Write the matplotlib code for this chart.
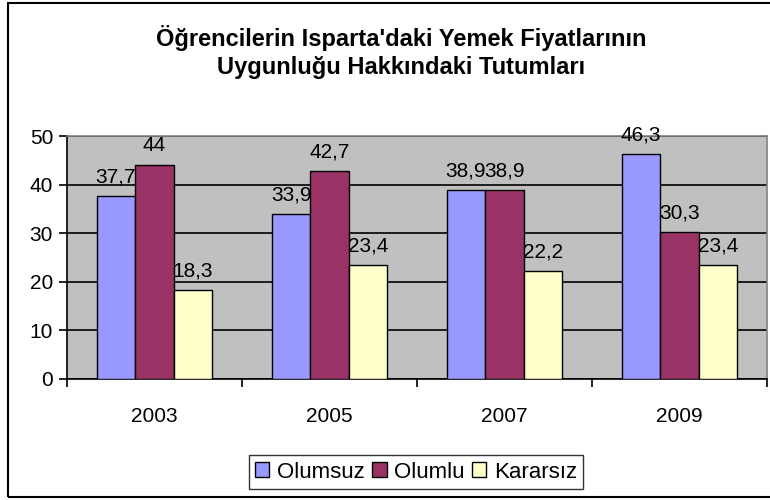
import matplotlib
matplotlib.use("Agg")
import matplotlib.pyplot as plt
from matplotlib.patches import Rectangle
import numpy as np

plt.rcParams['font.family'] = ['Liberation Sans', 'DejaVu Sans']

years = ['2003', '2005', '2007', '2009']
series_names = ['Olumsuz', 'Olumlu', 'Kararsız']
olumsuz = [37.7, 33.9, 38.9, 46.3]
olumlu = [44.0, 42.7, 38.9, 30.3]
kararsiz = [18.3, 23.4, 22.2, 23.4]
value_labels = [['37,7', '33,9', '38,9', '46,3'],
                ['44', '42,7', '38,9', '30,3'],
                ['18,3', '23,4', '22,2', '23,4']]
colors = ['#9999FF', '#993366', '#FFFFCC']
title = "Öğrencilerin Isparta'daki Yemek Fiyatlarının\nUygunluğu Hakkındaki Tutumları"

W, H = 770, 500
fig = plt.figure(figsize=(W / 100, H / 100), dpi=100)
fig.patch.set_facecolor('white')

# outer border
fig.patches.append(Rectangle((8 / W, 3 / H), 1.2, 494 / H, transform=fig.transFigure,
                             fill=False, edgecolor='black', linewidth=1.5, zorder=0))

ax = fig.add_axes([67 / W, (H - 379) / H, 700 / W, 243 / H])
ax.set_facecolor('#C0C0C0')

x = np.arange(len(years))
bw = 0.22
data = [olumsuz, olumlu, kararsiz]
for i, (vals, name, col) in enumerate(zip(data, series_names, colors)):
    xs = x + (i - 1) * bw
    bars = ax.bar(xs, vals, width=bw, color=col, edgecolor='black', linewidth=1.0,
                  label=name, zorder=3)
    for b, lab in zip(bars, value_labels[i]):
        ax.annotate(lab, (b.get_x() + b.get_width() / 2, b.get_height()),
                    xytext=(0, 7), textcoords='offset points', ha='center', va='bottom',
                    fontsize=15, zorder=4, annotation_clip=False)

ax.set_xlim(-0.5, 3.5)
ax.set_ylim(0, 50)
ax.set_yticks([0, 10, 20, 30, 40, 50])
ax.set_xticks(x)
ax.set_xticklabels(years)
ax.set_xticks(np.arange(-0.5, 4.0, 1.0), minor=True)
ax.tick_params(axis='x', which='major', length=0, pad=20, labelsize=15)
ax.tick_params(axis='x', which='minor', length=6, width=1.2, direction='out', color='black')
ax.tick_params(axis='y', length=6, width=1.2, direction='out', labelsize=15, pad=4)
ax.yaxis.grid(True, color='black', linewidth=1.2, zorder=1)
ax.set_axisbelow(True)
for s in ['top', 'right']:
    ax.spines[s].set_color('#808080')
    ax.spines[s].set_linewidth(1.2)
for s in ['left', 'bottom']:
    ax.spines[s].set_color('black')
    ax.spines[s].set_linewidth(1.2)

fig.text(401 / W, 1 - 52 / H, title, ha='center', va='center', fontsize=17,
         fontweight='bold', linespacing=1.25)

leg = fig.legend(loc='center', bbox_to_anchor=(416 / W, 1 - 472 / H), ncol=3,
                 fontsize=16, frameon=True, fancybox=False, edgecolor='black',
                 handlelength=0.64, handleheight=0.64, handletextpad=0.33,
                 columnspacing=0.35, borderpad=0.3, borderaxespad=0)
leg.get_frame().set_linewidth(1.0)

fig.savefig('out.png', dpi=100)
